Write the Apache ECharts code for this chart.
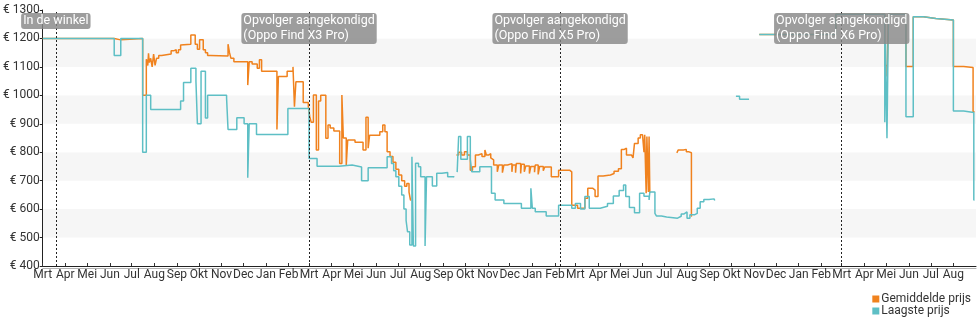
<!DOCTYPE html>
<html><head><meta charset="utf-8">
<script src="https://cdn.jsdelivr.net/npm/echarts@6/dist/echarts.min.js"></script>
<style>html,body{margin:0;padding:0;background:#fff}#c{width:980px;height:325px}</style>
</head><body><div id="c"></div>
<script>
// Day offsets are counted from this date
const START_DATE = '2020-03-01';
const END_DATE = '2023-09-01';
const monthLabels = ['Jan','Feb','Mrt','Apr','Mei','Jun','Jul','Aug','Sep','Okt','Nov','Dec'];
const yTicks = [400,500,600,700,800,900,1000,1100,1200,1300];
const seriesNames = ['Gemiddelde prijs','Laagste prijs'];
const eventDates = ['2020-03-19','2021-03-01','2022-02-08','2023-03-01'];
const eventLabels = ['In de winkel','Opvolger aangekondigd\n(Oppo Find X3 Pro)','Opvolger aangekondigd\n(Oppo Find X5 Pro)','Opvolger aangekondigd\n(Oppo Find X6 Pro)'];

// [day since START_DATE, price]; null = no data
const avgPrice = [[0,1200],[98,1195],[107,1200],[137,1000],[142,1127],[144,1105],[145,1148],[146,1115],[148,1130],[150,1100],[152,1145],[154,1105],[156,1130],[159,1140],[163,1145],[176,1157],[180,1160],[183,1150],[186,1160],[189,1177],[191,1180],[203,1212],[209,1180],[212,1162],[215,1195],[220,1160],[223,1150],[226,1140],[230,1138],[254,1180],[256,1150],[258,1130],[262,1118],[281,1036],[283,1118],[287,1110],[294,1095],[297,1125],[300,1085],[321,880],[323,1066],[335,1085],[343,1100],[345,960],[347,1048],[357,975],[364,960],[366,925],[368,905],[371,1001],[375,808],[378,980],[381,1000],[388,849],[391,896],[394,885],[399,875],[407,760],[410,1001],[412,850],[416,755],[418,843],[428,835],[439,808],[443,923],[446,814],[448,860],[462,872],[466,896],[469,872],[472,802],[476,785],[480,765],[484,740],[488,720],[492,700],[496,680],[499,690],[502,660],[504,632],[505,null],
[567,790],[570,800],[574,790],[578,802],[582,790],[586,737],[589,749],[593,790],[597,795],[602,785],[606,808],[608,790],[611,795],[614,780],[616,773],[618,755],[623,731],[625,755],[630,728],[632,755],[637,760],[643,731],[644,755],[648,728],[649,760],[655,725],[656,758],[660,731],[662,752],[667,725],[669,750],[674,730],[675,755],[679,722],[681,750],[686,735],[688,748],[697,714],[707,737],[722,731],[725,614],[733,603],[743,638],[747,673],[754,667],[757,644],[761,716],[768,720],[778,725],[783,733],[789,742],[793,810],[797,814],[800,790],[807,785],[809,780],[811,831],[816,850],[819,861],[822,855],[824,800],[825,861],[827,656],[828,855],[830,660],[831,855],[832,660],[833,null],
[869,798],[871,808],[878,810],[882,802],[885,798],[889,576],[890,null],
[982,1214],[1087,1285],[1154,1105],[1157,1066],[1159,1285],[1183,1101],[1193,1276],[1207,1270],[1224,1265],[1248,1101],[1262,1098],[1275,942],[1277,942]];

const lowPrice = [[0,1200],[98,1140],[107,1200],[137,800],[142,1000],[148,950],[189,980],[193,1045],[203,1095],[210,1050],[212,900],[217,1085],[223,920],[226,1000],[252,990],[254,880],[266,921],[276,900],[281,710],[283,900],[293,862],[336,954],[365,778],[376,751],[406,755],[424,748],[437,700],[446,745],[472,784],[478,760],[481,735],[484,714],[488,680],[492,650],[495,600],[498,560],[500,520],[503,474],[506,784],[508,470],[511,761],[515,749],[518,714],[524,470],[526,714],[534,681],[540,726],[547,729],[555,714],[563,712],[564,null],
[568,730],[570,855],[573,775],[582,855],[586,775],[588,731],[599,749],[615,656],[620,632],[632,620],[656,603],[669,673],[671,603],[675,591],[690,576],[707,614],[725,603],[730,620],[737,600],[743,644],[749,603],[764,610],[774,620],[782,646],[790,665],[796,685],[799,644],[804,606],[811,587],[818,656],[824,645],[831,632],[832,660],[839,585],[841,576],[848,572],[855,568],[870,575],[875,583],[879,590],[883,568],[887,580],[893,585],[897,603],[901,626],[906,634],[913,636],[920,630],[921,null],
[950,997],[955,986],[967,986],[968,null],
[982,1214],[1087,1285],[1154,905],[1155,1180],[1157,849],[1159,1285],[1183,925],[1193,1276],[1207,1270],[1224,1265],[1248,945],[1262,940],[1276,632],[1277,632]];

function parseDate(s){const p=s.split('-').map(Number);return new Date(p[0],p[1]-1,p[2]).getTime();}
const DAY = 86400000;
const t0 = parseDate(START_DATE);
const tEnd = parseDate(END_DATE);
const toSeries = arr => arr.map(([d,v]) => [t0 + d*DAY, v === null ? '-' : v]);

const monthTicks = [];
{ let d = new Date(t0); while (d.getTime() < tEnd) { monthTicks.push(d.getTime()); d = new Date(d.getFullYear(), d.getMonth()+1, 1); } }

const FONT = 'Roboto';
const chart = echarts.init(document.getElementById('c'), null, {renderer:'canvas'});
chart.setOption({
  animation:false,
  textStyle:{fontFamily:FONT},
  grid:{left:40,right:4,top:10,bottom:59},
  legend:{
    data:seriesNames, orient:'vertical', right:4, bottom:3, icon:'rect',
    itemWidth:7, itemHeight:7, itemGap:0,
    textStyle:{fontSize:12, color:'#333', fontFamily:FONT, lineHeight:11, padding:[0,0,0,-3]}
  },
  xAxis:{
    type:'value', min:t0, max:tEnd, scale:true,
    axisLine:{lineStyle:{color:'#222', width:1, shadowColor:'rgba(0,0,0,0.3)', shadowOffsetY:2}},
    axisTick:{show:true, inside:true, length:3, customValues:monthTicks, lineStyle:{color:'#333'}},
    axisLabel:{customValues:monthTicks, formatter:v => monthLabels[new Date(v).getMonth()], fontSize:12, color:'#333', margin:3, fontFamily:FONT, hideOverlap:false},
    splitLine:{show:false}
  },
  yAxis:{
    type:'value', min:yTicks[0], max:yTicks[yTicks.length-1], interval:100,
    axisLine:{show:true, lineStyle:{color:'#222'}},
    axisTick:{show:true, length:3, lineStyle:{color:'#222'}},
    axisLabel:{formatter:v => '€ ' + v, fontSize:12, color:'#333', margin:3, fontFamily:FONT},
    splitLine:{show:false},
    splitArea:{show:true, areaStyle:{color:['#ffffff','#f6f6f6']}}
  },
  series:[
    {name:seriesNames[0], type:'line', step:'end', showSymbol:false, data:toSeries(avgPrice),
     lineStyle:{color:'#f0821e', width:1.5}, itemStyle:{color:'#f0821e'}, connectNulls:false},
    {name:seriesNames[1], type:'line', step:'end', showSymbol:false, data:toSeries(lowPrice),
     lineStyle:{color:'#5ebfc5', width:1.5}, itemStyle:{color:'#5ebfc5'}, connectNulls:false},
    {name:'events', type:'line', data:[], z:10, silent:true,
     markLine:{symbol:['none','none'], silent:true, animation:false, label:{show:false},
       lineStyle:{color:'#222', type:[2,2], width:1},
       data:eventDates.map(d => ({xAxis:parseDate(d)}))},
     markPoint:{symbol:'rect', symbolSize:0, silent:true, animation:false,
       data:eventDates.map((d,i) => ({name:eventLabels[i], coord:[parseDate(d), yTicks[yTicks.length-1]]})),
       label:{show:true, position:'bottom', distance:3,
         formatter:p => p.name.split('\n').map(s => '{t|' + s + '}').join('\n'),
         backgroundColor:'rgba(135,135,135,0.82)', borderRadius:3, padding:[0,2,1,2],
         rich:{t:{align:'left', color:'#fff', fontSize:12.5, lineHeight:15, fontFamily:FONT}}}}
    }
  ]
});
</script></body></html>
